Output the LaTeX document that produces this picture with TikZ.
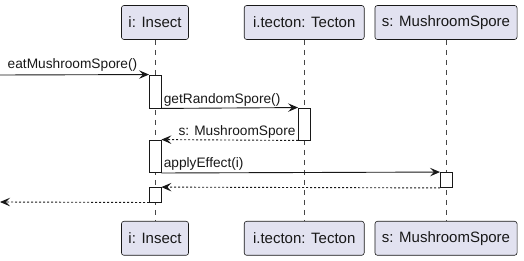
\documentclass[tikz,border=0pt]{standalone}
\usepackage{fontspec}
\setmainfont{Liberation Sans}
\usetikzlibrary{arrows.meta,calc}
\definecolor{ink}{HTML}{181818}
\definecolor{headfill}{HTML}{E2E2F0}
\tikzset{
  participant/.style={draw=ink, fill=headfill, rounded corners=2.5pt, line width=0.6pt,
    minimum height=34pt, inner xsep=7pt, inner ysep=0pt, font=\fontsize{15}{17}\selectfont, text=ink},
  lifeline/.style={draw=ink!80, line width=0.5pt, dash pattern=on 5pt off 5pt},
  activation/.style={draw=ink, fill=white, line width=0.9pt, minimum width=11.5pt, inner sep=0pt},
  msg/.style={draw=ink, line width=0.9pt, -{Stealth[length=10pt, width=8.5pt, inset=4pt]}},
  ret/.style={msg, dash pattern=on 2pt off 2pt},
  lbl/.style={font=\fontsize{13.7}{15}\selectfont, text=ink, inner sep=0pt},
}
\begin{document}
\begin{tikzpicture}[x=1pt, y=-1pt]
\useasboundingbox (0,0) rectangle (524,261);

% participant heads, top and bottom
\node[participant, minimum width=66pt]  (insT) at (155,22.5)  {i: Insect};
\node[participant, minimum width=120pt] (tecT) at (304.2,22.5) {i.tecton: Tecton};
\node[participant, minimum width=142pt] (spoT) at (446,22.5)  {s: MushroomSpore};
\node[participant, minimum width=66pt]  (insB) at (155,238.3) {i: Insect};
\node[participant, minimum width=120pt] (tecB) at (304.2,238.3) {i.tecton: Tecton};
\node[participant, minimum width=142pt] (spoB) at (446,238.3) {s: MushroomSpore};

% lifelines
\draw[lifeline] (insT.south) -- (insB.north);
\draw[lifeline] (tecT.south) -- (tecB.north);
\draw[lifeline] (spoT.south) -- (spoB.north);

% activation bars
\node[activation, minimum height=33pt]   (actA) at (155.2,91.5)  {};
\node[activation, minimum height=32pt]   (actT) at (304.2,124)   {};
\node[activation, minimum height=32.5pt] (actB) at (155.2,156.3) {};
\node[activation, minimum height=15pt]   (actS) at (446.2,180)   {};
\node[activation, minimum height=14.5pt] (actC) at (155.2,194.8) {};

% free ends of the found and returned messages
\coordinate (inL)  at (0,75);
\coordinate (outL) at (0,202);

% messages
\draw[msg] (inL) -- (actA.north west)
  node[lbl, pos=0, anchor=base west, xshift=7.3pt, yshift=6pt] {eatMushroomSpore()};
\draw[msg] (actA.south east) -- (actT.north west)
  node[lbl, pos=0, anchor=base west, xshift=2pt, yshift=4.5pt] {getRandomSpore()};
\draw[ret] (actT.south west) -- (actB.north east)
  node[lbl, pos=0, anchor=base east, xshift=-2pt, yshift=4.5pt] {s: MushroomSpore};
\draw[msg] (actB.south east) -- (actS.north west)
  node[lbl, pos=0, anchor=base west, xshift=2pt, yshift=5pt] {applyEffect(i)};
\draw[ret] (actS.south west) -- (actC.north east);
\draw[ret] (actC.south west) -- (outL);
\end{tikzpicture}
\end{document}
